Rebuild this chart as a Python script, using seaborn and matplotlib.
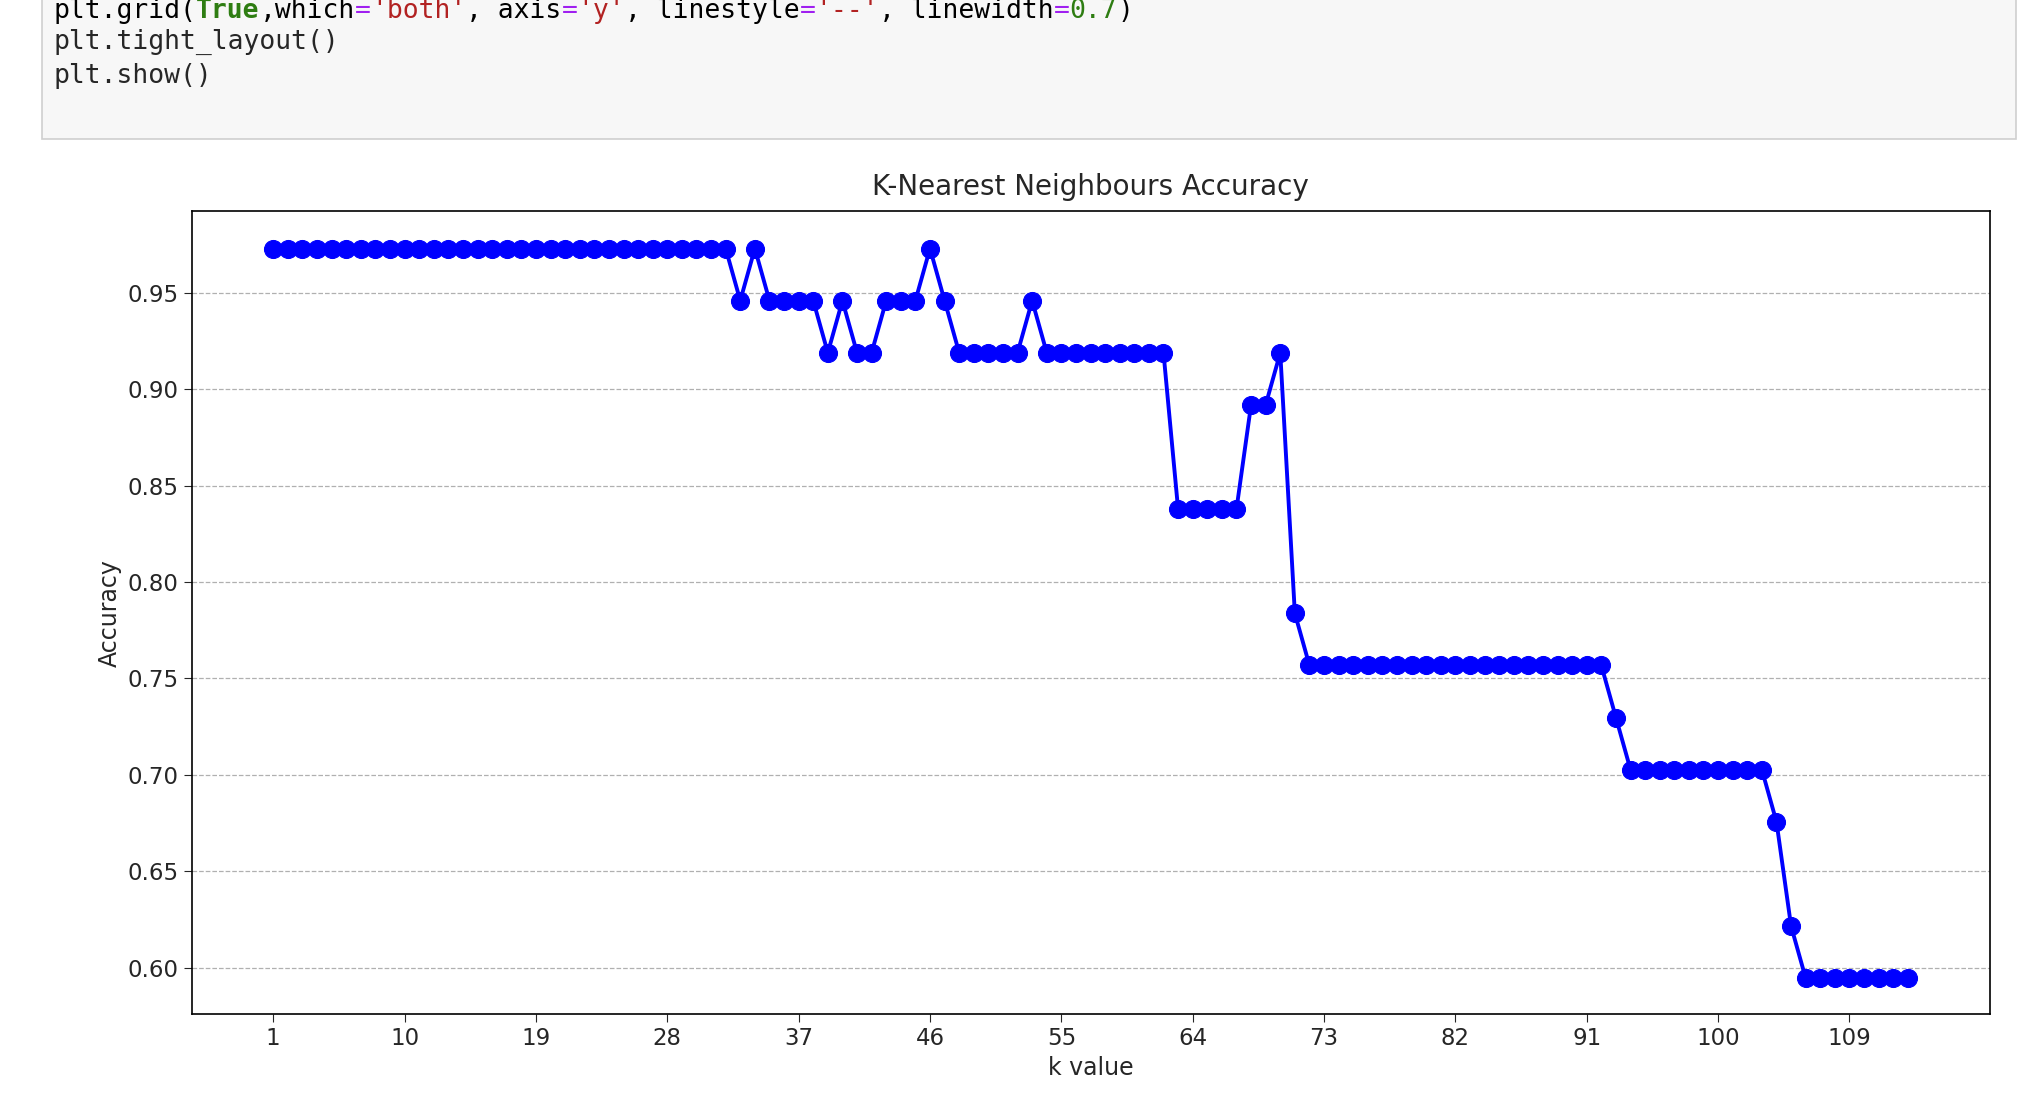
import numpy as np
import pandas as pd
import matplotlib
matplotlib.use("Agg")
import matplotlib.pyplot as plt
import seaborn as sns
from matplotlib.patches import Rectangle

# accuracy for k = 1..113 (test set of 37 samples)
k_values = list(range(1, 114))
correct = (
    [36] * 32 + [35, 36] + [35] * 4 + [34, 35, 34, 34, 35, 35, 35, 36, 35]
    + [34] * 5 + [35] + [34] * 9 + [31] * 5 + [33, 33, 34, 29]
    + [28] * 21 + [27] + [26] * 10 + [25, 23] + [22] * 8
)
accuracy = [c / 37 for c in correct]
x_ticks = list(range(1, 114, 9))

code_lines = [
    ("plt.grid(", "black"), ("True", "#2e7d12"), (",which", "black"), ("=", "#a020f0"),
    ("'both'", "#b22222"), (", axis", "black"), ("=", "#a020f0"), ("'y'", "#b22222"),
    (", linestyle", "black"), ("=", "#a020f0"), ("'--'", "#b22222"),
    (", linewidth", "black"), ("=", "#a020f0"), ("0.7", "#2e7d12"), (")", "black"),
]

df = pd.DataFrame({"k": k_values, "acc": accuracy})

sns.set_style("white")
fig = plt.figure(figsize=(20.18, 11.06), dpi=100)

# notebook code cell at the top
fig.patches.append(Rectangle((0.021, 0.874), 0.978, 0.14, transform=fig.transFigure,
                             facecolor="#f7f7f7", edgecolor="#cfcfcf", lw=1.2))
x = 0.0265
r = fig.canvas.get_renderer()
for txt, col in code_lines:
    t = fig.text(x, 0.99, txt, color=col, family="DejaVu Sans Mono", fontsize=19,
                 weight="bold" if txt == "True" else "normal", va="center")
    bb = t.get_window_extent(renderer=r)
    x += bb.width / fig.bbox.width
fig.text(0.0265, 0.962, "plt.tight_layout()", family="DejaVu Sans Mono", fontsize=19, va="center")
fig.text(0.0265, 0.931, "plt.show()", family="DejaVu Sans Mono", fontsize=19, va="center")

ax = fig.add_axes([0.0949, 0.083, 0.891, 0.726])
sns.lineplot(data=df, x="k", y="acc", ax=ax, color="blue", marker="o",
             markersize=13, markeredgecolor="blue", linewidth=2.8)
ax.set_xticks(x_ticks)
ax.set_title("K-Nearest Neighbours Accuracy", fontsize=20, pad=12)
ax.set_xlabel("k value", fontsize=17)
ax.set_ylabel("Accuracy", fontsize=17)
ax.tick_params(labelsize=16.5, length=6, bottom=True, left=True)
ax.set_yticks([0.60, 0.65, 0.70, 0.75, 0.80, 0.85, 0.90, 0.95])
ax.set_xlim(-4.6, 118.6)
ax.set_ylim(0.5759, 0.9923)
ax.grid(True, which="both", axis="y", linestyle="--", linewidth=0.9, color="#b0b0b0")
for s in ax.spines.values():
    s.set_color("black")
    s.set_linewidth(1.2)

fig.savefig("out.png", dpi=100)
